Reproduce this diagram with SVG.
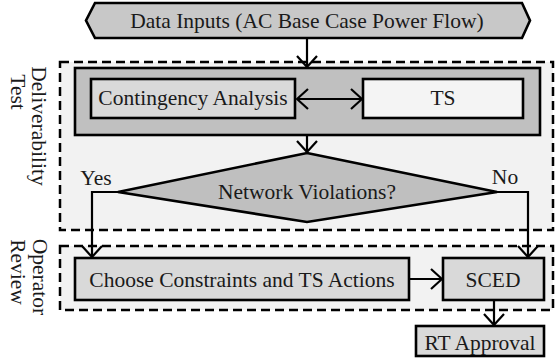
<svg xmlns="http://www.w3.org/2000/svg" width="555" height="360" viewBox="0 0 555 360">
<defs>
<marker id="arr" viewBox="0 0 13 22" refX="12" refY="11" markerWidth="13" markerHeight="22" markerUnits="userSpaceOnUse" orient="auto-start-reverse">
<path d="M1,1 L12,11 L1,21" fill="none" stroke="#000" stroke-width="2.2"/>
</marker>
</defs>
<style>
text{font-size:21.5px;fill:#1a1a1a;text-anchor:middle}
.box{stroke:#000;stroke-width:2.6}
.zone{fill:#f2f2f2;stroke:#000;stroke-width:2.5;stroke-dasharray:9,5}
.ln{fill:none;stroke:#000;stroke-width:2.2}
</style>
<g font-family="'Liberation Serif', 'Times New Roman', Tinos, 'DejaVu Serif', serif">
<g id="zone-deliverability">
<rect class="zone" x="60" y="62" width="493" height="168"/>
<text transform="translate(32,126) rotate(90)">Deliverability</text>
<text transform="translate(11,92) rotate(90)">Test</text>
</g>
<g id="zone-operator">
<rect class="zone" x="60" y="246" width="493" height="64"/>
<text transform="translate(33,277) rotate(90)">Operator</text>
<text transform="translate(11,272) rotate(90)">Review</text>
</g>
<g id="data-inputs">
<polygon class="box" points="95,3 522,3 530,20.5 522,38 95,38 86,20.5" fill="#c8c8c8"/>
<text x="307" y="28">Data Inputs (AC Base Case Power Flow)</text>
</g>
<g id="analysis-group">
<rect class="box" x="75" y="68" width="465" height="67" fill="#c0c0c0"/>
</g>
<g id="contingency">
<rect class="box" x="91" y="79" width="204" height="39" fill="#d9d9d9"/>
<text x="193" y="105">Contingency Analysis</text>
</g>
<g id="ts">
<rect class="box" x="363" y="79" width="160" height="39" fill="#f4f4f4"/>
<text x="443" y="105">TS</text>
</g>
<g id="violations">
<polygon class="box" points="307,153 497,192 307,222 118,192" fill="#bfbfbf"/>
<text x="307" y="199">Network Violations?</text>
</g>
<g id="choose">
<rect class="box" x="75" y="258" width="334" height="42" fill="#d9d9d9"/>
<text x="242" y="287">Choose Constraints and TS Actions</text>
</g>
<g id="sced">
<rect class="box" x="443" y="258" width="101" height="42" fill="#d9d9d9"/>
<text x="493" y="287">SCED</text>
</g>
<g id="rt-approval">
<rect class="box" x="416" y="326" width="128" height="30" fill="#d9d9d9"/>
<text x="480" y="350">RT Approval</text>
</g>
<g id="connectors">
<line class="ln" x1="307" y1="38" x2="307" y2="67" marker-end="url(#arr)"/>
<line class="ln" x1="297" y1="99" x2="362" y2="99" marker-start="url(#arr)" marker-end="url(#arr)"/>
<line class="ln" x1="307" y1="135" x2="307" y2="152" marker-end="url(#arr)"/>
<polyline class="ln" points="118,192 92,192 92,257" marker-end="url(#arr)"/>
<polyline class="ln" points="497,192 528,192 528,257" marker-end="url(#arr)"/>
<line class="ln" x1="409" y1="279" x2="442" y2="279" marker-end="url(#arr)"/>
<line class="ln" x1="494" y1="300" x2="494" y2="325" marker-end="url(#arr)"/>
<text x="96" y="185">Yes</text>
<text x="505" y="184">No</text>
</g>
</g>
</svg>
